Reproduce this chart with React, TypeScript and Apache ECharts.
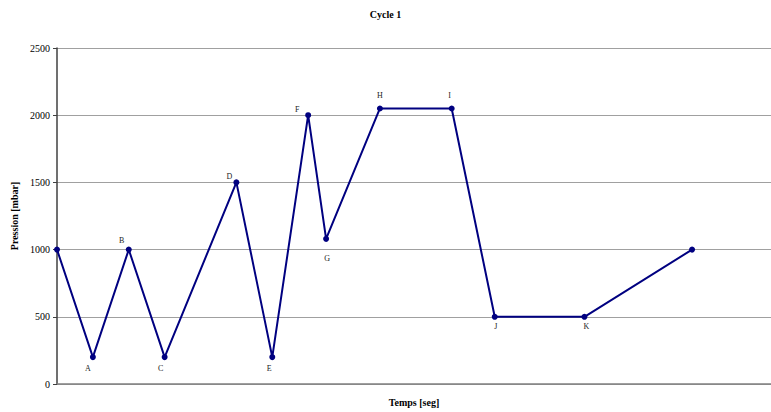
import React, { useEffect, useRef } from "react";
import * as echarts from "echarts";

const timeValues = [0, 10, 20, 30, 50, 60, 70, 75, 90, 110, 122, 147, 177];
const pressureValues = [1000, 200, 1000, 200, 1500, 200, 2000, 1080, 2050, 2050, 500, 500, 1000];
const pointNames = ["", "A", "B", "C", "D", "E", "F", "G", "H", "I", "J", "K", ""];
const yTicks = [0, 500, 1000, 1500, 2000, 2500];

const FONT = "'Liberation Serif', 'Times New Roman', serif";

// label offsets (pixels) relative to point centre
const labelOffsets: Record<string, [number, number]> = {
  A: [-5, 11],
  B: [-7, -9],
  C: [-4, 11],
  D: [-7, -6],
  E: [-3, 11],
  F: [-11, -6],
  G: [1, 20],
  H: [0, -13],
  I: [-2, -13],
  J: [1, 10],
  K: [2, 10],
};

export default function App() {
  const ref = useRef<HTMLDivElement>(null);
  useEffect(() => {
    document.body.style.margin = "0";
    if (!ref.current) return;
    const chart = echarts.init(ref.current, undefined, { renderer: "svg" });
    const data = timeValues.map((t, i) => {
      const name = pointNames[i];
      const off = labelOffsets[name];
      return {
        value: [t, pressureValues[i]],
        name,
        label: off
          ? {
              show: true,
              position: "inside",
              offset: off,
              formatter: name,
              fontFamily: FONT,
              fontSize: 8,
              color: "#222",
            }
          : { show: false },
      };
    });
    chart.setOption({
      animation: false,
      backgroundColor: "#ffffff",
      title: {
        text: "Cycle 1",
        left: "center",
        top: 4,
        textStyle: { fontFamily: FONT, fontSize: 10, fontWeight: "bold", color: "#000" },
      },
      grid: { left: 57, right: 0, top: 48, bottom: 22, containLabel: false },
      xAxis: {
        type: "value",
        min: 0,
        max: 199,
        name: "Temps [seg]",
        nameLocation: "middle",
        nameGap: 13,
        nameTextStyle: { fontFamily: FONT, fontSize: 10, fontWeight: "bold", color: "#000" },
        axisLine: { show: true, lineStyle: { color: "#808080", width: 1.5 } },
        axisTick: { show: false },
        axisLabel: { show: false },
        splitLine: { show: false },
      },
      yAxis: {
        type: "value",
        min: 0,
        max: 2500,
        interval: 500,
        name: "Pression [mbar]",
        nameLocation: "middle",
        nameGap: 32,
        nameRotate: 90,
        nameTextStyle: { fontFamily: FONT, fontSize: 10, fontWeight: "bold", color: "#000" },
        axisLine: { show: true, lineStyle: { color: "#404040", width: 1.5 } },
        axisTick: { show: true, length: 4, lineStyle: { color: "#404040" } },
        axisLabel: {
          fontFamily: FONT,
          fontSize: 10,
          color: "#000",
          margin: 7,
          formatter: (v: number) => (yTicks.includes(v) ? String(v) : ""),
        },
        splitLine: { show: true, lineStyle: { color: "#a0a0a0", width: 1 } },
      },
      series: [
        {
          type: "line",
          data,
          symbol: "circle",
          symbolSize: 6,
          lineStyle: { color: "#000080", width: 2 },
          itemStyle: { color: "#000080" },
        },
      ],
    });
    return () => chart.dispose();
  }, []);
  return (
    <div
      ref={ref}
      style={{ width: 771, height: 412, position: "absolute", left: 0, top: 0 }}
    />
  );
}
